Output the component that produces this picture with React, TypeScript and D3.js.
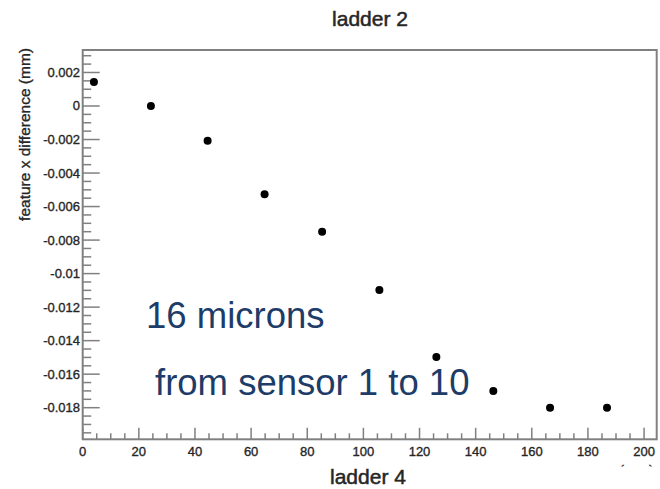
import React from "react";
import * as d3 from "d3";

const xValues = [4.0, 24.3, 44.5, 64.8, 85.3, 105.7, 126.0, 146.3, 166.5, 186.8];
const yValues = [0.00143, 0.0, -0.00207, -0.00527, -0.0075, -0.01098, -0.01498, -0.017, -0.018, -0.018];
const xTickValues = [0, 20, 40, 60, 80, 100, 120, 140, 160, 180, 200];
const yTickValues = [0.002, 0, -0.002, -0.004, -0.006, -0.008, -0.01, -0.012, -0.014, -0.016, -0.018];
const yTickLabels = ["0.002", "0", "-0.002", "-0.004", "-0.006", "-0.008", "-0.01", "-0.012", "-0.014", "-0.016", "-0.018"];
const titleText = "ladder 2";
const bottomText = "ladder 4";
const xAxisTitle = "x (mm)";
const yAxisTitle = "feature x difference (mm)";
const annotations = ["16 microns", "from sensor 1 to 10"];

const W = 660;
const H = 489;
const L = 82.7;
const R = 656.7;
const T = 50;
const B = 439.3;
const FONT = "'Liberation Sans', Arial, Helvetica, sans-serif";
const AXIS = "#808080";
const BLUE = "#1d3c68";

export default function App() {
  const x = d3.scaleLinear().domain([0, 204.5]).range([L, R]);
  const y = d3.scaleLinear().domain([-0.019886, 0.003341]).range([B, T]);

  const xMinor = d3.range(0, 204.5, 5).filter((v) => v % 20 !== 0);
  const yMinor = d3.range(-0.0195, 0.00334, 0.0005).filter((v) => Math.abs(Math.round(v / 0.0005)) % 4 !== 0);

  const dark = { fill: "#262626", stroke: "#262626", strokeWidth: 0.35 };

  return (
    <svg width={W} height={H} style={{ position: "absolute", left: 0, top: 0, background: "#fff" }} fontFamily={FONT}>
      <rect x={0} y={0} width={W} height={H} fill="#fff" />
      {/* title */}
      <text x={370} y={25.5} textAnchor="middle" fontSize={21} {...dark} strokeWidth={0.5}>{titleText}</text>

      {/* ticks */}
      {xTickValues.map((v) => (
        <line key={"xM" + v} x1={x(v)} x2={x(v)} y1={B} y2={B - 11.5} stroke={AXIS} strokeWidth={1.5} />
      ))}
      {xMinor.map((v) => (
        <line key={"xm" + v} x1={x(v)} x2={x(v)} y1={B} y2={B - 6} stroke={AXIS} strokeWidth={1.5} />
      ))}
      {yTickValues.map((v) => (
        <line key={"yM" + v} x1={L} x2={L + 17} y1={y(v)} y2={y(v)} stroke={AXIS} strokeWidth={1.5} />
      ))}
      {yMinor.map((v, i) => (
        <line key={"ym" + i} x1={L} x2={L + 8.5} y1={y(v)} y2={y(v)} stroke={AXIS} strokeWidth={1.5} />
      ))}

      {/* frame */}
      <rect x={L} y={T} width={R - L} height={B - T} fill="none" stroke={AXIS} strokeWidth={2} />

      {/* tick labels */}
      {xTickValues.map((v) => (
        <text key={"xl" + v} x={x(v)} y={456} textAnchor="middle" fontSize={13} {...dark}>{String(v)}</text>
      ))}
      {yTickValues.map((v, i) => (
        <text key={"yl" + v} x={80} y={y(v) + 4.5} textAnchor="end" fontSize={13} {...dark}>{yTickLabels[i]}</text>
      ))}

      {/* axis titles */}
      <text transform={`translate(30,48) rotate(-90)`} textAnchor="end" fontSize={15.5} {...dark}>{yAxisTitle}</text>
      <text x={654} y={476} textAnchor="end" fontSize={15} {...dark}>{xAxisTitle}</text>
      <rect x={300} y={466.5} width={360} height={30} fill="#fff" />
      <text x={330} y={484} fontSize={21} {...dark} strokeWidth={0.5}>{bottomText}</text>

      {/* points */}
      {xValues.map((v, i) => (
        <circle key={"p" + i} cx={x(v)} cy={y(yValues[i])} r={4} fill="#000" />
      ))}

      {/* annotations */}
      <text x={146} y={328} fontSize={36.5} fill={BLUE}>{annotations[0]}</text>
      <text x={155} y={395} fontSize={36.5} fill={BLUE}>{annotations[1]}</text>
    </svg>
  );
}
